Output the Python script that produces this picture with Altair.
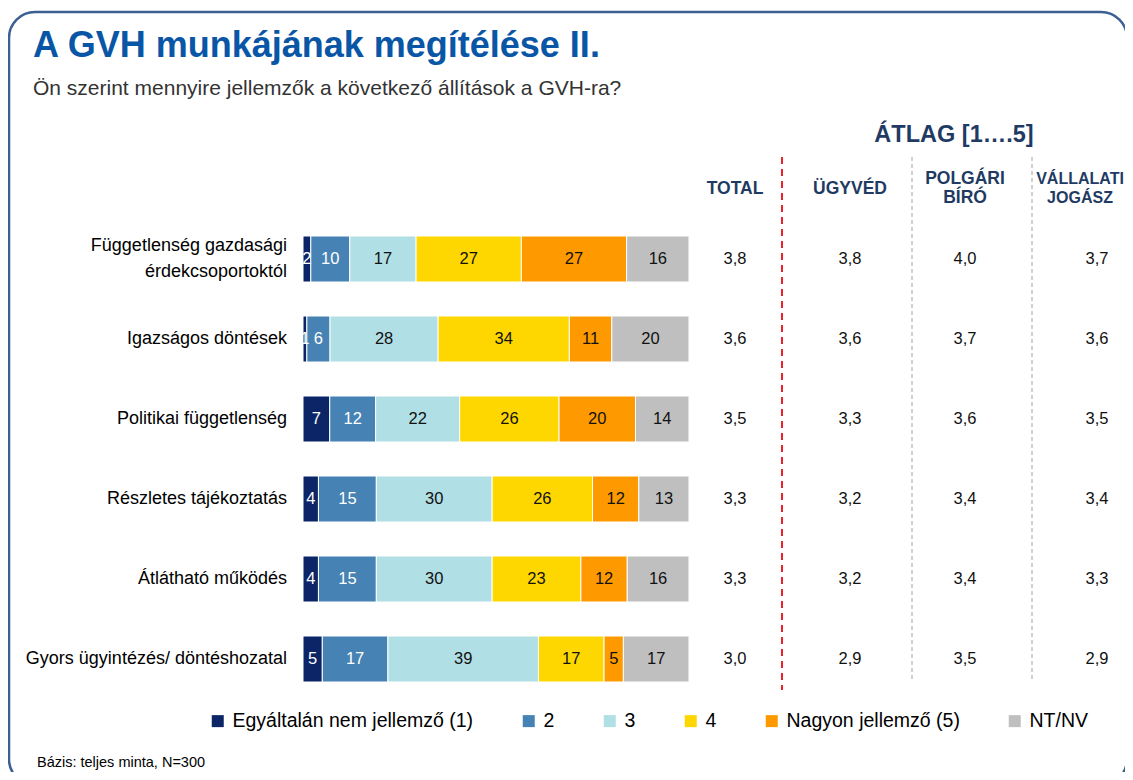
import altair as alt
import pandas as pd

FONT = "Liberation Sans"

# ---------------- data ----------------
categories = [
    "Függetlenség gazdasági érdekcsoportoktól",
    "Igazságos döntések",
    "Politikai függetlenség",
    "Részletes tájékoztatás",
    "Átlátható működés",
    "Gyors ügyintézés/ döntéshozatal",
]
category_labels = [
    "Függetlenség gazdasági\nérdekcsoportoktól",
    "Igazságos döntések",
    "Politikai függetlenség",
    "Részletes tájékoztatás",
    "Átlátható működés",
    "Gyors ügyintézés/ döntéshozatal",
]
series = ["Egyáltalán nem jellemző (1)", "2", "3", "4", "Nagyon jellemző (5)", "NT/NV"]
colors = ["#0B2566", "#4682B4", "#B0DFE5", "#FFD700", "#FF9900", "#BFBFBF"]

s1 = [2, 1, 7, 4, 4, 5]
s2 = [10, 6, 12, 15, 15, 17]
s3 = [17, 28, 22, 30, 30, 39]
s4 = [27, 34, 26, 26, 23, 17]
s5 = [27, 11, 20, 12, 12, 5]
s6 = [16, 20, 14, 13, 16, 17]

columns = ["TOTAL", "ÜGYVÉD", "POLGÁRI BÍRÓ", "VÁLLALATI JOGÁSZ"]
column_headers = ["TOTAL", "ÜGYVÉD", "POLGÁRI\nBÍRÓ", "VÁLLALATI\nJOGÁSZ"]
avg_total = [3.8, 3.6, 3.5, 3.3, 3.3, 3.0]
avg_ugyved = [3.8, 3.6, 3.3, 3.2, 3.2, 2.9]
avg_polgari = [4.0, 3.7, 3.6, 3.4, 3.4, 3.5]
avg_vallalati = [3.7, 3.6, 3.5, 3.4, 3.3, 2.9]

title_text = "A GVH munkájának megítélése II."
subtitle_text = "Ön szerint mennyire jellemzők a következő állítások a GVH-ra?"
atlag_text = "ÁTLAG [1….5]"
footnote_text = "Bázis: teljes minta, N=300"

# ---------------- tables ----------------
rows = []
for si, (name, vals) in enumerate(zip(series, [s1, s2, s3, s4, s5, s6])):
    for ci, cat in enumerate(categories):
        rows.append({"category": cat, "series": name, "order": si + 1, "value": vals[ci]})
bars_df = pd.DataFrame(rows)

labels_df = pd.DataFrame({"category": categories, "label": category_labels})
labels_df["multi"] = labels_df["label"].str.contains("\n")

avg_rows = []
for col, vals in zip(columns, [avg_total, avg_ugyved, avg_polgari, avg_vallalati]):
    for ci, cat in enumerate(categories):
        avg_rows.append({"category": cat, "col": col, "v": vals[ci]})
avg_df = pd.DataFrame(avg_rows)

head_df = pd.DataFrame({"col": columns, "header": column_headers})

# layout (pixel centres of the value columns and of their headers)
col_x = [727, 842, 957, 1089]
head_x = [727, 842, 957, 1072]
head_size = [17.5, 17.5, 17.5, 16]

# ---------------- scales ----------------
def yscale():
    return alt.Scale(domain=categories, range=[211, 691], paddingInner=0.425, paddingOuter=0.2125)

def xbar():
    return alt.Scale(domain=[0, 1], range=[295, 681], nice=False, zero=True)

Y = alt.Y("category:N", scale=yscale(), axis=None, sort=categories)

one = pd.DataFrame({"t": [0]})

border = alt.Chart(one).mark_rect(
    fill="transparent", stroke="#3C5F94", strokeWidth=2.5, cornerRadius=26
).encode(x=alt.value(1), x2=alt.value(1119), y=alt.value(4), y2=alt.value(777))

stacked = alt.Chart(bars_df).transform_stack(
    stack="value", groupby=["category"], as_=["v0", "v1"], offset="normalize",
    sort=[alt.SortField("order", "ascending")],
).transform_calculate(mid="(datum.v0 + datum.v1) / 2")

bars = stacked.mark_bar(stroke="white", strokeWidth=1).encode(
    x=alt.X("v0:Q", scale=xbar(), axis=None),
    x2="v1:Q",
    y=Y,
    color=alt.Color(
        "series:N",
        scale=alt.Scale(domain=series, range=colors),
        legend=alt.Legend(
            orient="none", legendX=200, legendY=703, direction="horizontal",
            columns=6, title=None, symbolType="square", symbolSize=144,
            symbolStrokeWidth=0, symbolOpacity=1, labelFontSize=19.5,
            labelFont=FONT, labelColor="#000000", columnPadding=45,
            labelOffset=5, labelLimit=400,
        ),
    ),
    order=alt.Order("order:Q"),
)

bar_text = stacked.mark_text(font=FONT, fontSize=16.5, baseline="middle", align="center").encode(
    x=alt.X("mid:Q", scale=xbar(), axis=None),
    y=Y,
    text=alt.Text("value:Q"),
    color=alt.condition(alt.datum.order <= 2, alt.value("white"), alt.value("#111111")),
)

cat_base = alt.Chart(labels_df)
cat_single = cat_base.transform_filter("!datum.multi").mark_text(
    font=FONT, fontSize=18, align="right", baseline="middle", color="#000000",
).encode(x=alt.value(279), y=Y, text="label:N")
cat_multi = cat_base.transform_filter("datum.multi").mark_text(
    font=FONT, fontSize=18, align="right", baseline="middle", lineBreak="\n",
    lineHeight=26, dy=-13, color="#000000",
).encode(x=alt.value(279), y=Y, text="label:N")

avg_layers = []
head_layers = []
for col, cx, hx, hs in zip(columns, col_x, head_x, head_size):
    avg_layers.append(
        alt.Chart(avg_df).transform_filter(alt.datum.col == col).transform_calculate(
            lbl="replace(format(datum.v, '.1f'), '.', ',')"
        ).mark_text(font=FONT, fontSize=16.5, align="center", baseline="middle", color="#111111").encode(
            x=alt.value(cx), y=Y, text="lbl:N"
        )
    )
    hdr = head_df[head_df["col"] == col]["header"].iloc[0]
    multi = "\n" in hdr
    head_layers.append(
        alt.Chart(head_df).transform_filter(alt.datum.col == col).mark_text(
            font=FONT, fontSize=hs, fontWeight="bold", align="center", baseline="middle",
            lineBreak="\n", lineHeight=19, color="#1F3B63",
        ).encode(x=alt.value(hx), y=alt.value(171 if multi else 181), text="header:N")
    )

def label(txt, x, y, size, weight="normal", color="#000000", align="left", baseline="middle"):
    return alt.Chart(pd.DataFrame({"t": [txt]})).mark_text(
        font=FONT, fontSize=size, fontWeight=weight, color=color, align=align, baseline=baseline
    ).encode(x=alt.value(x), y=alt.value(y), text="t:N")

title = label(title_text, 25, 49, 36, "bold", "#0A56A6", baseline="alphabetic")
subtitle = label(subtitle_text, 25, 81, 21, color="#333333")
atlag = label(atlag_text, 946, 127, 23.5, "bold", "#1F3B63", align="center")
footnote = label(footnote_text, 29, 755, 14.5, color="#000000")

red_rule = alt.Chart(one).mark_rule(color="#E8202A", strokeWidth=2, strokeDash=[7, 5]).encode(
    x=alt.value(774), y=alt.value(149), y2=alt.value(682)
)
gray_rules = alt.layer(
    alt.Chart(one).mark_rule(color="#A0A0A0", strokeWidth=1, strokeDash=[4, 3]).encode(
        x=alt.value(904), y=alt.value(149), y2=alt.value(672)
    ),
    alt.Chart(one).mark_rule(color="#A0A0A0", strokeWidth=1, strokeDash=[4, 3]).encode(
        x=alt.value(1024), y=alt.value(149), y2=alt.value(672)
    ),
)

chart = alt.layer(
    border, bars, bar_text, cat_single, cat_multi, *avg_layers, *head_layers,
    title, subtitle, atlag, footnote, red_rule, gray_rules,
).properties(
    width=1117, height=764, autosize=alt.AutoSizeParams(type="none"), padding=0,
    background="white",
).configure_view(stroke=None)

chart.save("out.html", embed_options={"renderer": "svg", "actions": False})
